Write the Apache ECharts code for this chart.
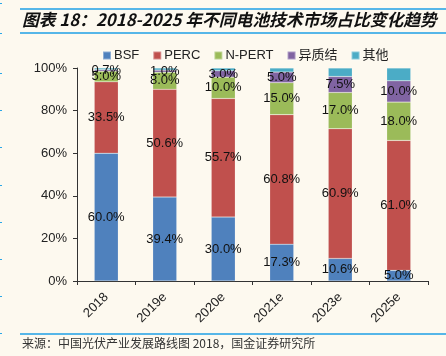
<!DOCTYPE html>
<html><head><meta charset="utf-8">
<script src="https://cdn.jsdelivr.net/npm/echarts@6/dist/echarts.min.js"></script>
<style>html,body{margin:0;padding:0;background:#FDF9EF;}#c{width:446px;height:356px;}</style>
</head><body><div id="c"></div>
<script>
const categories = ['2018','2019e','2020e','2021e','2023e','2025e'];
const bsf   = [60.0, 39.4, 30.0, 17.3, 10.6, 5.0];
const perc  = [33.5, 50.6, 55.7, 60.8, 60.9, 61.0];
const npert = [5.0, 8.0, 10.0, 15.0, 17.0, 18.0];
const hjt   = [0.7, 1.0, 3.0, 5.0, 7.5, 10.0];
const other = [0.8, 1.0, 1.3, 1.9, 4.0, 6.0];
const yTicks = [0, 20, 40, 60, 80, 100];

const chart = echarts.init(document.getElementById('c'));
const lbl = {show:true, position:'inside', color:'#111', fontSize:13, fontFamily:'Liberation Sans, Arial', formatter: p => p.value.toFixed(1)+'%'};
function s(name, data, color, showLabel){
  return {name, type:'bar', stack:'a', data, barWidth:24,
    itemStyle:{color, borderColor:'rgba(255,255,255,0.35)', borderWidth:0.5},
    label: showLabel ? lbl : {show:false}};
}
const dashes = [];
[3,33,73,110,147,185,222,259,296,333].forEach(y=>dashes.push({type:'rect',shape:{x:0,y:y,width:2,height:1},style:{fill:'#2AA7E8'}}));
chart.setOption({
  backgroundColor:'#FDF9EF',
  animation:false,
  graphic:[
    {type:'line',shape:{x1:20,y1:9,x2:446,y2:9},style:{stroke:'#1E9FE6',lineWidth:1.5}},
    {type:'line',shape:{x1:20,y1:33,x2:446,y2:33},style:{stroke:'#1E9FE6',lineWidth:1.5}},
    {type:'text',left:22,top:11,style:{text:'图表 18：2018-2025 年不同电池技术市场占比变化趋势',font:'italic bold 16.8px "Noto Sans CJK SC", sans-serif',fill:'#111'}},
    {type:'line',shape:{x1:20,y1:334,x2:446,y2:334},style:{stroke:'#1E9FE6',lineWidth:1.5}},
    {type:'text',left:22,top:337,style:{text:'来源：中国光伏产业发展路线图 2018，国金证券研究所',font:'12px "Noto Sans CJK SC", sans-serif',fill:'#333'}},
    ...dashes
  ],
  legend:{top:44,left:97,itemWidth:8,itemHeight:8,itemGap:13,icon:'rect',
    textStyle:{fontSize:13,color:'#222',fontFamily:'Liberation Sans, "Noto Sans CJK SC", sans-serif',padding:[0,0,0,-2]},
    data:['BSF','PERC','N-PERT','异质结','其他']},
  grid:{left:77,right:18,top:68,bottom:75},
  xAxis:{type:'category',data:categories,
    axisLine:{lineStyle:{color:'#333'}},
    axisTick:{show:true,length:4,lineStyle:{color:'#333'}},
    axisLabel:{rotate:45,fontSize:13,color:'#222',fontFamily:'Liberation Sans, Arial',margin:14}},
  yAxis:{type:'value',min:0,max:100,interval:20,
    axisLine:{show:true,lineStyle:{color:'#333'}},
    axisTick:{show:true,length:4,lineStyle:{color:'#333'}},
    splitLine:{show:false},
    axisLabel:{fontSize:13,color:'#222',fontFamily:'Liberation Sans, Arial',margin:10,
      formatter:v=>yTicks.includes(v)?v+'%':''}},
  series:[
    s('BSF',bsf,'#4F81BD',true),
    s('PERC',perc,'#C0504D',true),
    s('N-PERT',npert,'#9BBB59',true),
    s('异质结',hjt,'#8064A2',true),
    s('其他',other,'#4BACC6',false)
  ]
});
</script></body></html>
